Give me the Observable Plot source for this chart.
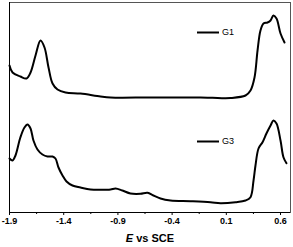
<!DOCTYPE html>
<html><head><meta charset="utf-8">
<script src="https://cdn.jsdelivr.net/npm/d3@7"></script>
<script src="https://cdn.jsdelivr.net/npm/@observablehq/plot@0.6"></script>
<style>body{margin:0;background:#fff}</style>
</head><body><div id="chart"></div>
<script>
const g1E = [-1.90,-1.872,-1.80,-1.743,-1.706,-1.66,-1.614,-1.577,-1.54,-1.503,-1.457,-1.383,-1.245,-1.06,-0.968,-0.599,-0.138,-0.027,0.139,0.277,0.323,0.36,0.388,0.415,0.443,0.48,0.508,0.535,0.563,0.60,0.637];
const g1I = [147,140,136,134,140,157,172,165,145,129,123,120,119,116,115,115,115,114.7,114.5,117,122,135,162,182,189,190,192,197,194,179,170];
const g3E = [-1.90,-1.872,-1.845,-1.80,-1.762,-1.734,-1.706,-1.679,-1.642,-1.596,-1.549,-1.503,-1.476,-1.448,-1.411,-1.374,-1.319,-1.245,-1.153,-1.06,-0.968,-0.922,-0.858,-0.784,-0.692,-0.627,-0.572,-0.507,-0.415,-0.230,-0.046,0.046,0.185,0.277,0.323,0.351,0.369,0.397,0.434,0.470,0.508,0.535,0.563,0.60,0.627,0.655];
const g3I = [54,52,57,75,85,88,84,72,63,58,56,56,54,45,37,31,27,25,23,22.7,23,24,22,19,18.7,19.7,17,14,12,11.3,10.3,9.3,10.3,12,15.3,32,47,64,70.3,79,87,92,89,72,55.3,49.3];
const seriesNames = ["G1","G3"];
const xTicks = [-1.9,-1.4,-0.9,-0.4,0.1,0.6];
const xMinor = [-1.65,-1.15,-0.65,-0.15,0.35];

const g1 = g1E.map((e,i)=>({E:e, I:g1I[i]}));
const g3 = g3E.map((e,i)=>({E:e, I:g3I[i]}));
const legendY = {G1:180, G3:71};
const legend = seriesNames.map(n=>({name:n, y:legendY[n]}));

const chart = Plot.plot({
  width: 293, height: 247,
  marginLeft: 9, marginRight: 3, marginTop: 2, marginBottom: 35,
  style: {fontFamily: "Liberation Sans, Arial, sans-serif", background: "#fff"},
  x: {domain: [-1.9, 0.692], label: null},
  y: {domain: [0, 210], axis: null},
  marks: [
    Plot.frame({stroke: "#555", strokeWidth: 1}),
    Plot.axisX({ticks: xTicks, tickFormat: d=>d.toFixed(1), tickSize: 3, tickPadding: 2, fontSize: 9, fontWeight: "bold", label: null, stroke:"#000"}),
    Plot.axisX({ticks: xMinor, tickFormat: ()=>"", tickSize: 2, label: null, stroke:"#000"}),
    Plot.ruleY([0], {stroke:"#000"}),
    Plot.ruleX([-1.9], {stroke:"#000"}),
    Plot.line(g1, {x:"E", y:"I", stroke:"#000", strokeWidth: 2, curve:"catmull-rom"}),
    Plot.line(g3, {x:"E", y:"I", stroke:"#000", strokeWidth: 2, curve:"catmull-rom"}),
    Plot.ruleY(legend, {y:"y", x1:-0.166, x2:0.037, stroke:"#000", strokeWidth: 2}),
    Plot.text(legend, {y:"y", x:0.06, text:"name", textAnchor:"start", fontSize: 9, fill:"#000"})
  ]
});
document.getElementById("chart").appendChild(chart);
const svg = d3.select(chart);
const t = svg.append("text").attr("x", 150).attr("y", 242).attr("text-anchor","middle")
  .attr("font-family","Liberation Sans, Arial, sans-serif").attr("font-size", 11).attr("font-weight","bold").attr("fill","#000");
t.append("tspan").attr("font-style","italic").text("E");
t.append("tspan").text(" vs SCE");
</script>
</body></html>
